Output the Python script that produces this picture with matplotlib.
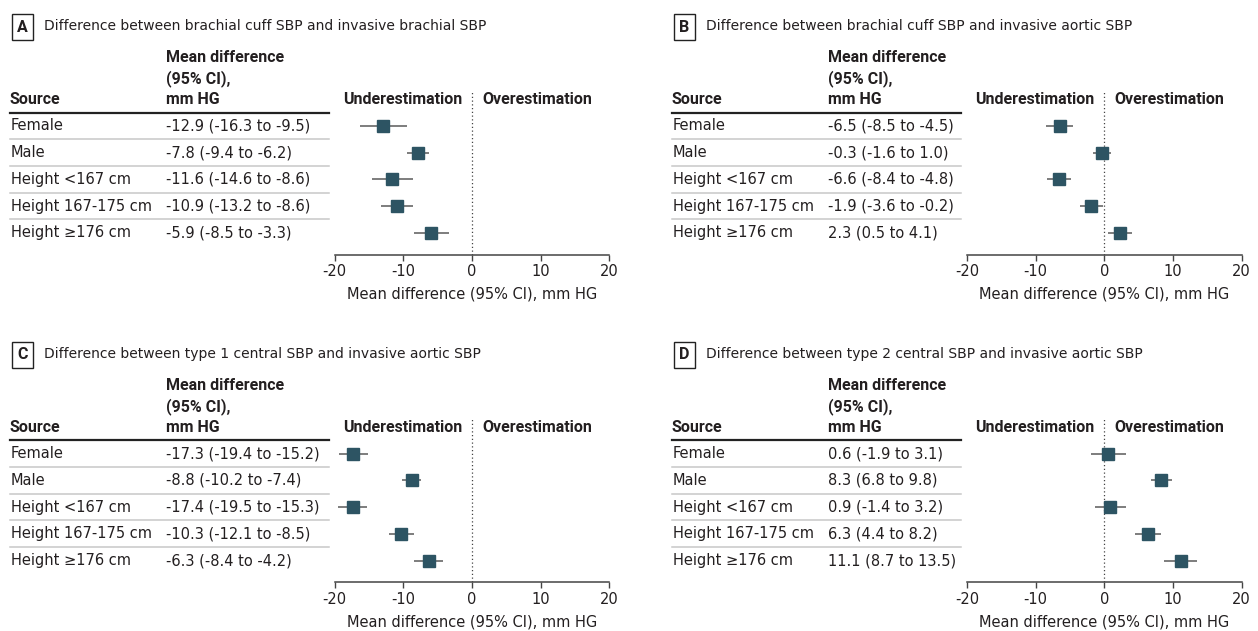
import matplotlib.pyplot as plt
import numpy as np
from matplotlib.transforms import blended_transform_factory

plt.rcParams['font.family'] = ['DejaVu Sans']
plt.rcParams['axes.unicode_minus'] = False

W, H = 1258, 631

sources = ["Female", "Male", "Height <167 cm", "Height 167-175 cm", "Height \u2265176 cm"]
letters = ["A", "B", "C", "D"]
titles = [
    "Difference between brachial cuff SBP and invasive brachial SBP",
    "Difference between brachial cuff SBP and invasive aortic SBP",
    "Difference between type 1 central SBP and invasive aortic SBP",
    "Difference between type 2 central SBP and invasive aortic SBP",
]

# mean difference, lower and upper 95% CI (mm HG)
mean_a = [-12.9, -7.8, -11.6, -10.9, -5.9]
low_a = [-16.3, -9.4, -14.6, -13.2, -8.5]
high_a = [-9.5, -6.2, -8.6, -8.6, -3.3]

mean_b = [-6.5, -0.3, -6.6, -1.9, 2.3]
low_b = [-8.5, -1.6, -8.4, -3.6, 0.5]
high_b = [-4.5, 1.0, -4.8, -0.2, 4.1]

mean_c = [-17.3, -8.8, -17.4, -10.3, -6.3]
low_c = [-19.4, -10.2, -19.5, -12.1, -8.4]
high_c = [-15.2, -7.4, -15.3, -8.5, -4.2]

mean_d = [0.6, 8.3, 0.9, 6.3, 11.1]
low_d = [-1.9, 6.8, -1.4, 4.4, 8.7]
high_d = [3.1, 9.8, 3.2, 8.2, 13.5]

xticks = [-20, -10, 0, 10, 20]

TXT = "#231f20"
MARK = "#2d5463"
CI = "#5a5a5a"
BOLD = dict(family=["Roboto", "DejaVu Sans"], weight="bold", size=11.5)
FS = 10.5
ROW = 26.7

# panel layout in pixels: table x, value column x, rule end x, axis left, axis right, y offset
layout = [
    (10, 166.5, 329, 334.7, 609.3, 0),
    (672, 828.5, 961, 967, 1241.6, 0),
    (10, 166.5, 329, 334.7, 609.3, 327.7),
    (672, 828.5, 961, 967, 1241.6, 327.7),
]
panels = [(mean_a, low_a, high_a), (mean_b, low_b, high_b),
          (mean_c, low_c, high_c), (mean_d, low_d, high_d)]

fig = plt.figure(figsize=(W / 100, H / 100), dpi=100)

for letter, title, (means, lows, highs), (tx, cx, rx, al, ar, yoff) in zip(letters, titles, panels, layout):
    top_px = 90 + yoff
    bot_px = 254.7 + yoff
    row0 = 126 + yoff
    ax = fig.add_axes([al / W, 1 - bot_px / H, (ar - al) / W, (bot_px - top_px) / H])
    ax.set_xlim(-20, 20)
    ax.set_ylim((bot_px - row0) / ROW, (top_px - row0) / ROW)
    ydata = np.arange(len(sources))

    ax.axvline(0, color="#444444", ls=(0, (1, 2)), lw=0.9, zorder=1)
    ax.hlines(ydata, lows, highs, color=CI, lw=1.1, zorder=2)
    ax.plot(means, ydata, "s", ms=8.2, color=MARK, zorder=3)

    for s in ["left", "top", "right"]:
        ax.spines[s].set_visible(False)
    ax.spines["bottom"].set_color("#444444")
    ax.spines["bottom"].set_linewidth(1.1)
    ax.set_yticks([])
    ax.set_xticks(xticks)
    ax.tick_params(axis="x", direction="out", length=4, width=1, color="#444444",
                   labelcolor=TXT, labelsize=FS, pad=3)
    ax.set_xlabel("Mean difference (95% CI), mm HG", fontsize=FS, color=TXT, labelpad=5)

    def py(p):
        return (p + yoff - row0) / ROW

    ax.text(-1.45, py(100), "Underestimation", ha="right", va="center", color=TXT, **BOLD)
    ax.text(1.45, py(100), "Overestimation", ha="left", va="center", color=TXT, **BOLD)

    tr = blended_transform_factory(fig.transFigure, ax.transData)
    # table header
    ax.text(tx / W, py(100), "Source", transform=tr, ha="left", va="center", color=TXT, **BOLD)
    for lab, p in zip(["Mean difference", "(95% CI),", "mm HG"], [58, 79, 100]):
        ax.text(cx / W, py(p), lab, transform=tr, ha="left", va="center", color=TXT, **BOLD)
    ax.plot([tx / W, rx / W], [-0.5, -0.5], transform=tr, clip_on=False, color="#222222", lw=1.6)
    for i in range(len(sources) - 1):
        ax.plot([tx / W, rx / W], [i + 0.5, i + 0.5], transform=tr, clip_on=False,
                color="#c8c8c8", lw=1.1)

    # table rows
    for i, (src, m, lo, hi) in enumerate(zip(sources, means, lows, highs)):
        ax.text(tx / W + 1 / W, i, src, transform=tr, ha="left", va="center", color=TXT, fontsize=FS)
        ax.text(cx / W, i, f"{m:.1f} ({lo:.1f} to {hi:.1f})", transform=tr,
                ha="left", va="center", color=TXT, fontsize=FS)

    # panel title
    fig.text((tx + 12.5) / W, 1 - (27 + yoff) / H, letter, ha="center", va="center", color=TXT,
             bbox=dict(boxstyle="square,pad=0.35", fc="white", ec="#222222", lw=1), **BOLD)
    fig.text((tx + 34) / W, 1 - (26 + yoff) / H, title, ha="left", va="center", color=TXT, fontsize=10)

fig.savefig("out.png", dpi=100)
